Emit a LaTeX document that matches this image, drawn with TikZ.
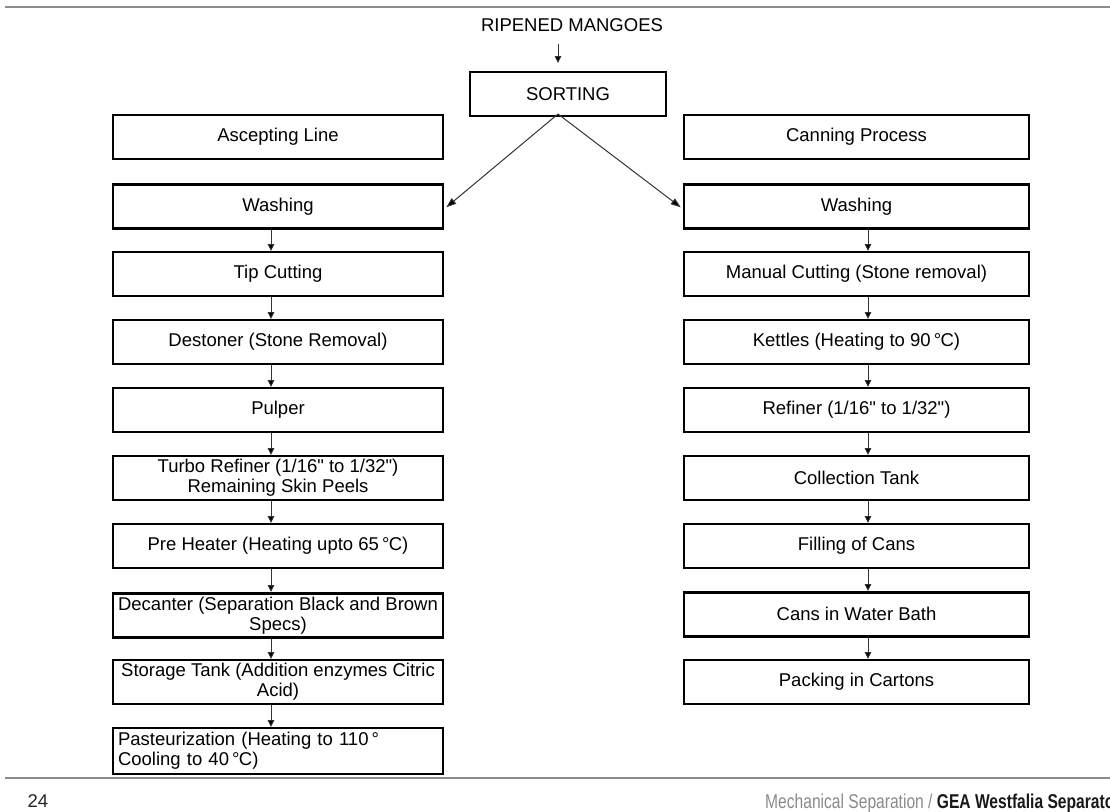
\documentclass[tikz,border=0pt]{standalone}
\usepackage{fontspec}
\setmainfont{Liberation Sans}[Ligatures=TeXOff]
\usetikzlibrary{arrows.meta}
\definecolor{rulegray}{HTML}{8C8C8C}
\definecolor{footgray}{HTML}{8A8A8A}
\definecolor{linegray}{HTML}{333333}
\newcommand{\degC}{\,°\kern-0.6pt C}
\begin{document}
\begin{tikzpicture}[x=1pt,y=-1pt,
  txt/.style={font=\fontsize{18.5}{20}\selectfont},
  stepbox/.style={txt,draw=black,line width=2pt,minimum height=44pt,
    inner sep=2pt,align=center,anchor=north},
  leftbox/.style={stepbox,minimum width=330pt},
  rightbox/.style={stepbox,minimum width=345pt},
  heavy/.style={line width=2.6pt},
  arr/.style={draw=linegray,line width=0.9pt,
    -{Triangle[length=7pt,width=6.5pt,fill=black]}},
  diag/.style={draw=linegray,line width=1pt,
    -{Triangle[length=10pt,width=7pt,fill=black]}}]
\useasboundingbox (0,0) rectangle (1110,811);

% page rules
\draw[rulegray,line width=2pt] (5,7) -- (1110,7);
\draw[rulegray,line width=2pt] (5,778) -- (1110,778);

% head of the chart
\node[txt] (rip) at (572,25) {RIPENED MANGOES};
\node[stepbox,minimum width=196pt] (sort) at (568,71) {SORTING};
\coordinate (apex) at (558,114);

% left line
\node[leftbox] (ahead) at (278,114) {Ascepting Line};
\node[leftbox,heavy] (l1) at (278,183) {Washing};
\node[leftbox] (l2) at (278,251) {Tip Cutting};
\node[leftbox] (l3) at (278,319) {Destoner (Stone Removal)};
\node[leftbox] (l4) at (278,387) {Pulper};
\node[leftbox] (l5) at (278,455) {Turbo Refiner (1/16" to 1/32")\\Remaining Skin Peels};
\node[leftbox] (l6) at (278,523) {Pre Heater (Heating upto 65\degC)};
\node[leftbox,heavy] (l7) at (278,592) {Decanter (Separation Black and Brown\\Specs)};
\node[leftbox] (l8) at (278,659) {Storage Tank (Addition enzymes Citric\\Acid)};
\node[leftbox,align=left,text width=320pt,inner xsep=5pt,minimum height=46pt] (l9) at (278,727)
  {Pasteurization (Heating to 110\,°\\Cooling to 40\degC)};

% canning line
\node[rightbox] (rhead) at (856.5,114) {Canning Process};
\node[rightbox,heavy] (r1) at (856.5,183) {Washing};
\node[rightbox] (r2) at (856.5,251) {Manual Cutting (Stone removal)};
\node[rightbox] (r3) at (856.5,319) {Kettles (Heating to 90\degC)};
\node[rightbox] (r4) at (856.5,387) {Refiner (1/16" to 1/32")};
\node[rightbox] (r5) at (856.5,455) {Collection Tank};
\node[rightbox] (r6) at (856.5,523) {Filling of Cans};
\node[rightbox,heavy] (r7) at (856.5,591) {Cans in Water Bath};
\node[rightbox] (r8) at (856.5,659) {Packing in Cartons};

% connectors
\draw[arr,shorten <=9pt] (rip.south -| apex) -- ([yshift=8pt]sort.north -| apex);
\draw[diag] (apex) -- ([xshift=2pt,yshift=-1pt]l1.east);
\draw[diag] (apex) -- ([xshift=-2pt,yshift=-1pt]r1.west);
\foreach \a/\b in {l1/l2,l2/l3,l3/l4,l4/l5,l5/l6,l6/l7,l7/l8,l8/l9}
  \draw[arr] ([xshift=-7pt]\a.south) -- ([xshift=-7pt]\b.north);
\foreach \a/\b in {r1/r2,r2/r3,r3/r4,r4/r5,r5/r6,r6/r7,r7/r8}
  \draw[arr] ([xshift=11.5pt]\a.south) -- ([xshift=11.5pt]\b.north);

% footer
\node[txt,anchor=base west,text=black!85] (pg) at (24,807) {24};
\node[anchor=base west,inner sep=0pt,font=\fontsize{20}{22}\selectfont] (foot) at (765,808)
  {\scalebox{0.78}[1]{\textcolor{footgray}{Mechanical Separation /} \textcolor{black!90}{\bfseries GEA Westfalia Separator}}};
\end{tikzpicture}
\end{document}
